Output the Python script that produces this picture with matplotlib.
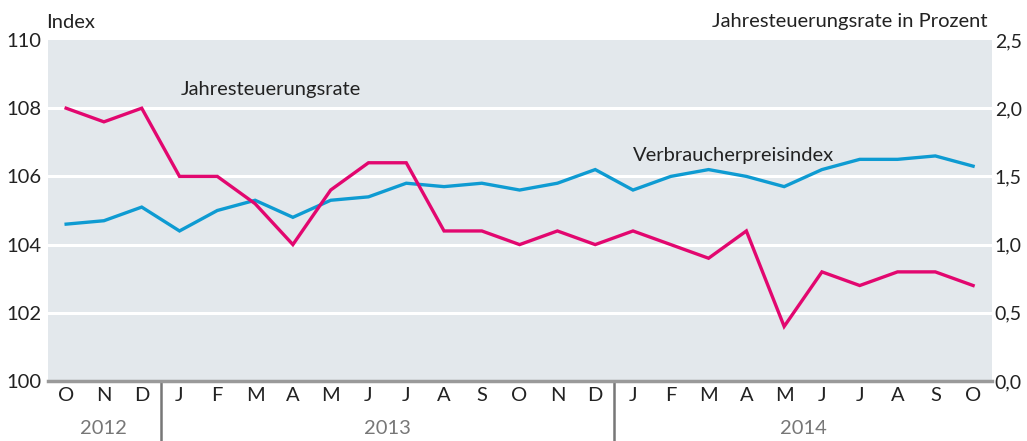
import matplotlib
matplotlib.use("Agg")
import matplotlib.pyplot as plt
import numpy as np

plt.rcParams['font.family'] = ['Lato', 'DejaVu Sans']

months = ["O", "N", "D", "J", "F", "M", "A", "M", "J", "J", "A", "S", "O", "N", "D",
          "J", "F", "M", "A", "M", "J", "J", "A", "S", "O"]
years = ["2012", "2013", "2014"]
year_spans = [(0, 2), (3, 14), (15, 24)]

vpi = [104.6, 104.7, 105.1, 104.4, 105.0, 105.3, 104.8, 105.3, 105.4, 105.8, 105.7, 105.8,
       105.6, 105.8, 106.2, 105.6, 106.0, 106.2, 106.0, 105.7, 106.2, 106.5, 106.5, 106.6, 106.3]
rate = [2.0, 1.9, 2.0, 1.5, 1.5, 1.3, 1.0, 1.4, 1.6, 1.6, 1.1, 1.1, 1.0, 1.1, 1.0,
        1.1, 1.0, 0.9, 1.1, 0.4, 0.8, 0.7, 0.8, 0.8, 0.7]

left_ticks = [100, 102, 104, 106, 108, 110]
right_ticks = [0.0, 0.5, 1.0, 1.5, 2.0, 2.5]
right_labels = ["0,0", "0,5", "1,0", "1,5", "2,0", "2,5"]

BLUE = "#0e9bd2"
PINK = "#e2076f"
BG = "#e3e8ec"
TXT = "#222222"
FS = 14.5

fig = plt.figure(figsize=(10.27, 4.41), dpi=100)
ax = fig.add_axes([48/1027, (441-381)/441, (992-48)/1027, (381-40)/441])
ax.set_facecolor(BG)
x = np.arange(len(months))
ax.set_xlim(-0.48, 24.5)
ax.set_ylim(100, 110)
ax.set_yticks(left_ticks)
ax.set_yticklabels([str(t) for t in left_ticks])
for t in left_ticks[1:-1]:
    ax.axhline(t, color="white", lw=2.2, zorder=1)

ax2 = ax.twinx()
ax2.set_ylim(0, 2.5)
ax2.set_yticks(right_ticks)
ax2.set_yticklabels(right_labels)

ax.plot(x, vpi, color=BLUE, lw=2.4, zorder=3, solid_joinstyle='miter')
ax2.plot(x, rate, color=PINK, lw=2.4, zorder=3, solid_joinstyle='miter')

for a in (ax, ax2):
    for s in a.spines.values():
        s.set_visible(False)
    a.tick_params(axis='y', length=0, labelsize=FS, colors=TXT)
ax.tick_params(axis='y', pad=5)
ax2.tick_params(axis='y', pad=2, labelsize=14)
ax.spines['bottom'].set_visible(True)
ax.spines['bottom'].set_color("#9a9a9a")
ax.spines['bottom'].set_linewidth(2.5)

ax.set_xticks(x)
ax.set_xticklabels(months)
ax.tick_params(axis='x', length=0, labelsize=FS, colors=TXT, pad=4)

# year labels and separators
for (s, e), yl in zip(year_spans, years):
    ax.text((s + e) / 2, -0.138, yl, transform=ax.get_xaxis_transform(),
            ha='center', va='center', fontsize=FS, color="#777777")
for s, e in year_spans[1:]:
    ax.plot([s - 0.5, s - 0.5], [0, -0.2], transform=ax.get_xaxis_transform(),
            color="#777777", lw=1.8, clip_on=False)

fig.text(46/1027, 1 - 22/441, "Index", ha='left', va='center', fontsize=FS, color=TXT)
fig.text(988/1027, 1 - 22/441, "Jahresteuerungsrate in Prozent", ha='right', va='center',
         fontsize=FS, color=TXT)

fig.text(181/1027, 1 - 89/441, "Jahresteuerungsrate",
         ha='left', va='center', fontsize=FS, color=TXT)
fig.text(633/1027, 1 - 155/441, "Verbraucherpreisindex",
         ha='left', va='center', fontsize=FS, color=TXT)

fig.savefig("out.png", dpi=100)
